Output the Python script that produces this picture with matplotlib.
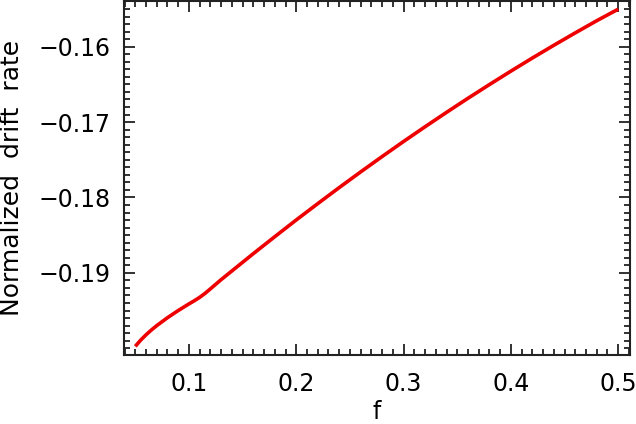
import matplotlib
matplotlib.use("Agg")
import matplotlib.pyplot as plt
from matplotlib.ticker import MultipleLocator

# values
f_vals = [0.050, 0.055, 0.060, 0.065, 0.070, 0.080, 0.090, 0.100, 0.105, 0.110,
          0.115, 0.120, 0.130, 0.140, 0.160, 0.180, 0.200, 0.220, 0.240, 0.260,
          0.280, 0.300, 0.320, 0.340, 0.360, 0.380, 0.400, 0.420, 0.440, 0.460,
          0.480, 0.500]
drift = [-0.19975, -0.19893, -0.19822, -0.19758, -0.19700, -0.19595, -0.19500,
         -0.19412, -0.19370, -0.19325, -0.19272, -0.19212, -0.19090, -0.18975,
         -0.18745, -0.18520, -0.18298, -0.18082, -0.17869, -0.17661, -0.17457,
         -0.17257, -0.17062, -0.16871, -0.16684, -0.16502, -0.16324, -0.16150,
         -0.15981, -0.15816, -0.15655, -0.15502]

x_ticks = [0.1, 0.2, 0.3, 0.4, 0.5]
y_ticks = [-0.19, -0.18, -0.17, -0.16]

plt.rcParams['font.family'] = ['DejaVu Sans']
fig = plt.figure(figsize=(6.36, 4.24), dpi=100)
ax = fig.add_axes([0.195, 0.1627, 0.7956, 0.8338])

ax.plot(f_vals, drift, color='#ee0000', lw=2.6, solid_capstyle='butt',
        solid_joinstyle='round')

ax.set_xlim(0.0395, 0.511)
ax.set_ylim(-0.2009, -0.1540)
ax.set_xticks(x_ticks)
ax.set_xticklabels(['0.1', '0.2', '0.3', '0.4', '0.5'])
ax.set_yticks(y_ticks)
ax.set_yticklabels(['\u22120.19', '\u22120.18', '\u22120.17', '\u22120.16'])
ax.xaxis.set_minor_locator(MultipleLocator(0.01))
ax.yaxis.set_minor_locator(MultipleLocator(0.001))

ax.tick_params(which='both', direction='in', top=True, right=True,
               width=1.3, colors='#222222', labelcolor='black')
ax.tick_params(which='major', length=8, labelsize=17)
ax.tick_params(axis='x', which='major', pad=12)
ax.tick_params(axis='y', which='major', pad=10)
ax.tick_params(which='minor', length=4.5)
for sp in ax.spines.values():
    sp.set_linewidth(1.5)
    sp.set_color('#222222')

ax.set_xlabel('f', fontsize=17, labelpad=3)
ax.set_ylabel('Normalized  drift  rate', fontsize=18, labelpad=10)

fig.savefig('out.png', dpi=100)
